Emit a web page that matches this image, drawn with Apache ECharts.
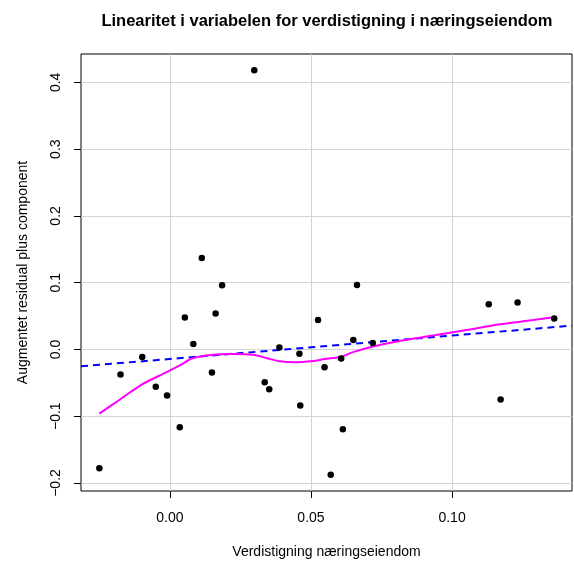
<!DOCTYPE html>
<html>
<head>
<meta charset="utf-8">
<script src="https://cdn.jsdelivr.net/npm/echarts@6/dist/echarts.min.js"></script>
<style>
html,body{margin:0;padding:0;background:#fff;}
#chart{width:574px;height:564px;}
</style>
</head>
<body>
<div id="chart"></div>
<script>
// Scatter points (x = verdistigning, y = augmented residual + component)
var pointX = [0.0299, 0.0113, 0.0185, 0.0053, 0.0162, 0.0083, -0.0098, -0.0175, -0.0050, -0.0010,
              0.0149, 0.0035, -0.0250, 0.0336, 0.0352, 0.0388, 0.0459, 0.0462, 0.0525, 0.0548,
              0.0663, 0.0650, 0.0719, 0.0607, 0.0613, 0.0570, 0.1130, 0.1232, 0.1362, 0.1172];
var pointY = [0.418, 0.137, 0.096, 0.048, 0.054, 0.0083, -0.0114, -0.0377, -0.056, -0.069,
              -0.0347, -0.1165, -0.178, -0.049, -0.0595, 0.003, -0.0065, -0.084, 0.044, -0.0268,
              0.0966, 0.0143, 0.0098, -0.0134, -0.1194, -0.1878, 0.0678, 0.0703, 0.0465, -0.0749];

// Linear fit (blue dashed), endpoints at plot edges
var fitX = [-0.0315, 0.1425];
var fitY = [-0.0253, 0.0357];

// Smoother (magenta)
var smoothX = [-0.025, -0.0177, -0.010, -0.001, 0.0035, 0.0083, 0.0153, 0.0224, 0.0295, 0.0342,
               0.039, 0.0437, 0.0508, 0.0548, 0.0607, 0.0649, 0.072, 0.0814, 0.0932, 0.1051,
               0.1169, 0.1287, 0.1362];
var smoothY = [-0.0961, -0.0749, -0.0526, -0.0337, -0.0238, -0.0129, -0.008, -0.007, -0.008, -0.0129,
               -0.0178, -0.0193, -0.0174, -0.0144, -0.011, -0.004, 0.0045, 0.0128, 0.0208, 0.0291,
               0.0376, 0.044, 0.0484];

// Axis ticks
var xTickValues = [0, 0.05, 0.10];
var xTickLabels = ['0.00', '0.05', '0.10'];
var yTickValues = [-0.2, -0.1, 0, 0.1, 0.2, 0.3, 0.4];
var yTickLabels = ['\u22120.2', '\u22120.1', '0.0', '0.1', '0.2', '0.3', '0.4'];

var titleText = 'Linearitet i variabelen for verdistigning i næringseiendom';
var xName = 'Verdistigning næringseiendom';
var yName = 'Augmentet residual plus component';

function zip(a, b) { return a.map(function (v, i) { return [v, b[i]]; }); }
function labelFor(values, labels) {
  return function (v) {
    for (var i = 0; i < values.length; i++) if (Math.abs(values[i] - v) < 1e-9) return labels[i];
    return '';
  };
}

var FONT = 'Liberation Sans, Arial, Helvetica, sans-serif';
var chart = echarts.init(document.getElementById('chart'), null, {renderer: 'canvas'});
chart.setOption({
  animation: false,
  backgroundColor: '#ffffff',
  title: {
    text: titleText,
    left: 322,
    top: 8,
    textAlign: 'center',
    textStyle: {fontFamily: FONT, fontSize: 16.5, fontWeight: 'bold', color: '#000'}
  },
  grid: {
    left: 81, top: 54, width: 491, height: 440,
    show: true, borderColor: '#000', borderWidth: 1, backgroundColor: 'transparent'
  },
  xAxis: {
    type: 'value',
    min: -0.0315, max: 0.1425,
    name: xName,
    nameLocation: 'middle',
    nameGap: 54,
    nameTextStyle: {fontFamily: FONT, fontSize: 14, color: '#000'},
    axisLine: {show: false, onZero: false},
    axisTick: {show: true, length: 7, customValues: xTickValues, lineStyle: {color: '#000', width: 1}},
    axisLabel: {customValues: xTickValues, formatter: labelFor(xTickValues, xTickLabels),
                margin: 20, fontFamily: FONT, fontSize: 14, color: '#000'},
    splitLine: {show: true, lineStyle: {color: '#d3d3d3', width: 1}}
  },
  yAxis: {
    type: 'value',
    min: -0.212, max: 0.4425,
    name: yName,
    nameLocation: 'middle',
    nameGap: 51,
    nameRotate: 90,
    nameTextStyle: {fontFamily: FONT, fontSize: 14, color: '#000'},
    axisLine: {show: false, onZero: false},
    axisTick: {show: true, length: 7, customValues: yTickValues, lineStyle: {color: '#000', width: 1}},
    axisLabel: {customValues: yTickValues, formatter: labelFor(yTickValues, yTickLabels),
                rotate: 90, margin: 18, fontFamily: FONT, fontSize: 14, color: '#000'},
    splitLine: {show: true, lineStyle: {color: '#d3d3d3', width: 1}}
  },
  series: [
    {
      type: 'line',
      data: zip(fitX, fitY),
      showSymbol: false,
      symbol: 'none',
      lineStyle: {color: '#0000ff', width: 2, type: [7, 5]},
      z: 3
    },
    {
      type: 'line',
      data: zip(smoothX, smoothY),
      showSymbol: false,
      symbol: 'none',
      smooth: 0.3,
      lineStyle: {color: '#ff00ff', width: 2},
      z: 4
    },
    {
      type: 'scatter',
      data: zip(pointX, pointY),
      symbol: 'circle',
      symbolSize: 6.5,
      itemStyle: {color: '#000', opacity: 1},
      z: 5
    }
  ]
});
</script>
</body>
</html>
